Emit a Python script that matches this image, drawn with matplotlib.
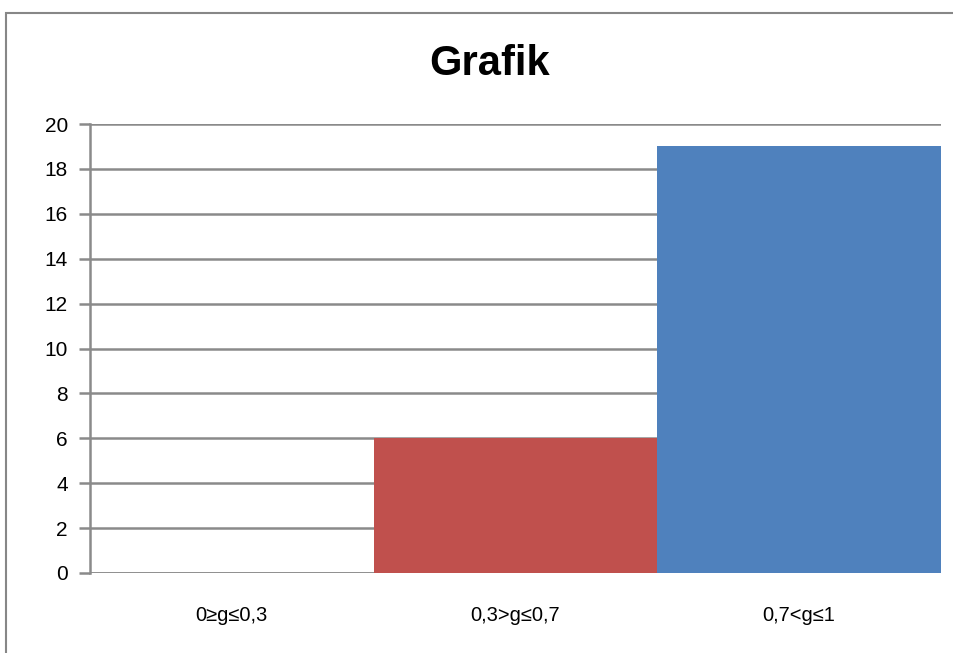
import numpy as np
import matplotlib
matplotlib.use("Agg")
import matplotlib.pyplot as plt
from matplotlib.patches import Rectangle

plt.rcParams["font.family"] = ["Liberation Sans Narrow", "Liberation Sans", "DejaVu Sans"]

categories = ["0≥g≤0,3", "0,3>g≤0,7", "0,7<g≤1"]
counts = [0, 6, 19]
bar_colors = ["#FFFFFF", "#C0504D", "#4F81BD"]
y_ticks = list(range(0, 21, 2))

fig = plt.figure(figsize=(9.54, 6.53), dpi=100)

# chart frame (runs off the right and bottom edges)
fig.patches.append(Rectangle((6 / 954, -0.1), 1.2, 1 - 13 / 653 + 0.1, transform=fig.transFigure,
                             fill=False, edgecolor="#878787", linewidth=1.5))

ax = fig.add_axes([90 / 954, 1 - 573 / 653, 851 / 954, 449 / 653])
x = np.arange(len(categories))
ax.bar(x, counts, width=1.0, color=bar_colors, zorder=2)

ax.set_xlim(-0.5, len(categories) - 0.5)
ax.set_ylim(0, 20)
ax.set_yticks(y_ticks)
ax.set_yticklabels([str(t) for t in y_ticks], fontsize=15)
ax.set_xticks(x)
ax.set_xticklabels(categories, fontsize=14.5)
ax.yaxis.grid(True, color="#8A8A8A", linewidth=1.8, zorder=0)
ax.set_axisbelow(True)

for side in ["top", "right", "bottom"]:
    ax.spines[side].set_visible(False)
ax.spines["left"].set_color("#8A8A8A")
ax.spines["left"].set_linewidth(1.8)
ax.axhline(0, color="#8A8A8A", linewidth=1.8, zorder=1)

ax.tick_params(axis="y", length=8, width=1.8, color="#8A8A8A", pad=8)
ax.tick_params(axis="x", length=0, pad=24)

fig.text(490 / 954, 1 - 64 / 653, "Grafik", fontsize=30, fontweight="bold", ha="center", va="center")

plt.savefig("out.png", dpi=100)
